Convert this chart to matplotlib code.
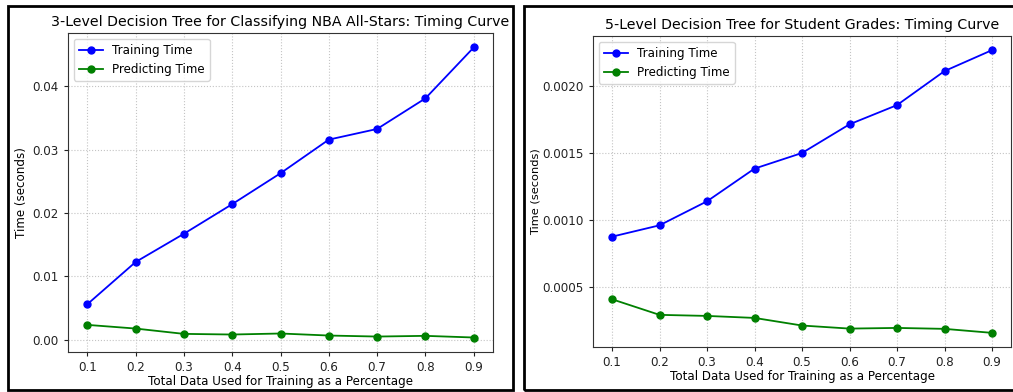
import matplotlib
matplotlib.use("Agg")
import matplotlib.pyplot as plt
from matplotlib.patches import Rectangle

# --- data
train_frac = [0.1, 0.2, 0.3, 0.4, 0.5, 0.6, 0.7, 0.8, 0.9]

nba_train = [0.00561, 0.01227, 0.01672, 0.02139, 0.02626, 0.03156, 0.03324, 0.03806, 0.04608]
nba_pred = [0.00236, 0.00178, 0.00094, 0.00084, 0.00100, 0.00068, 0.00052, 0.00063, 0.00037]

grades_train = [0.000874, 0.000959, 0.001139, 0.001384, 0.001501, 0.001716, 0.001860, 0.002115, 0.002272]
grades_pred = [0.000405, 0.000288, 0.000280, 0.000265, 0.000208, 0.000185, 0.000190, 0.000183, 0.000153]

titles = ["3-Level Decision Tree for Classifying NBA All-Stars: Timing Curve",
          "5-Level Decision Tree for Student Grades: Timing Curve"]

W, H = 1013, 392
fig = plt.figure(figsize=(W / 100, H / 100), dpi=100)

def px_box(x0, x1, ytop, ybot):
    return [x0 / W, (H - ybot) / H, (x1 - x0) / W, (ybot - ytop) / H]

# black frames around each panel (screenshot look)
for x0, x1 in [(8, 513), (524, 1025)]:
    fig.patches.append(Rectangle((x0 / W, 2 / H), (x1 - x0) / W, 384 / H,
                                 transform=fig.transFigure, fill=False,
                                 edgecolor="black", linewidth=2.0, zorder=10))

axes = [fig.add_axes(px_box(68, 493, 33, 352)),
        fig.add_axes(px_box(593, 1011, 36, 347))]

fs = 8.6
series = [(nba_train, nba_pred), (grades_train, grades_pred)]
for ax, (tr, pr), title in zip(axes, series, titles):
    ax.plot(train_frac, tr, "o-", color="blue", lw=1.3, ms=5, label="Training Time")
    ax.plot(train_frac, pr, "o-", color="green", lw=1.3, ms=5, label="Predicting Time")
    ax.set_title(title, fontsize=10.2, pad=5)
    ax.set_xlabel("Total Data Used for Training as a Percentage", fontsize=fs, labelpad=1)
    ax.set_xticks(train_frac)
    ax.tick_params(labelsize=fs, length=3, colors="#222222")
    ax.grid(True, linestyle=":", color="#c4c4c4", linewidth=0.8)
    for s in ax.spines.values():
        s.set_color("#333333")
        s.set_linewidth(0.8)
    ax.legend(loc="upper left", fontsize=fs, framealpha=0.8, handlelength=2)

axes[0].set_ylabel("Time (seconds)", fontsize=fs, labelpad=3)
axes[1].set_ylabel("Time (seconds)", fontsize=8.2, labelpad=1.5)
axes[0].set_yticks([0.0, 0.01, 0.02, 0.03, 0.04])
axes[1].set_yticks([0.0005, 0.0010, 0.0015, 0.0020])
axes[1].yaxis.set_major_formatter(matplotlib.ticker.FormatStrFormatter("%.4f"))

fig.savefig("out.png", dpi=100)
